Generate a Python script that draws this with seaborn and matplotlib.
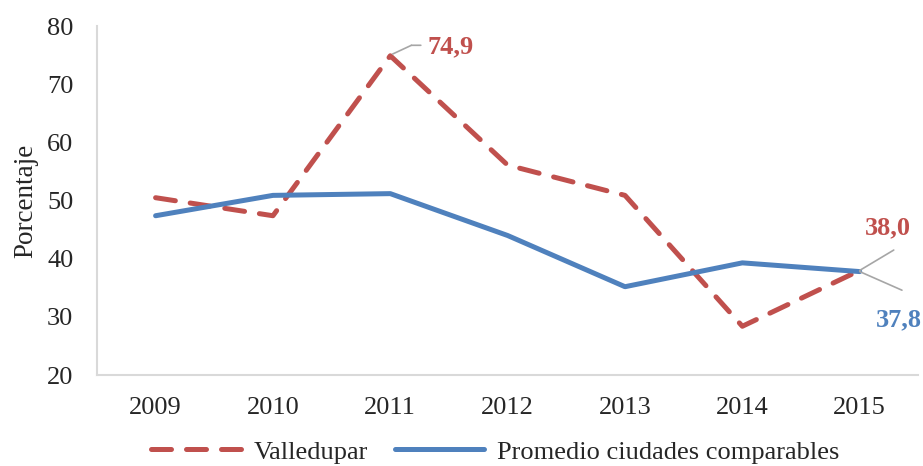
import seaborn as sns
from matplotlib import pyplot as plt
import pandas as pd

years = [2009, 2010, 2011, 2012, 2013, 2014, 2015]
valledupar = [50.5, 47.4, 74.9, 56.1, 50.9, 28.4, 38.0]
promedio = [47.4, 50.9, 51.2, 44.0, 35.2, 39.3, 37.8]

red = '#C0504D'
blue = '#4F81BD'
grey = '#A6A6A6'

sns.set_style('white')
plt.rcParams['font.family'] = ['Liberation Serif', 'DejaVu Serif']

df = pd.DataFrame({'year': years, 'Valledupar': valledupar,
                   'Promedio ciudades comparables': promedio})

fig = plt.figure(figsize=(9.23, 4.66), dpi=100)
ax = fig.add_axes([0.105, 0.195, 0.89, 0.749])

sns.lineplot(data=df, x='year', y='Valledupar', ax=ax, color=red, lw=3.6,
             label='Valledupar')
sns.lineplot(data=df, x='year', y='Promedio ciudades comparables', ax=ax,
             color=blue, lw=3.6, label='Promedio ciudades comparables')
ax.lines[0].set_dashes((4, 3))
ax.lines[0].set_dash_capstyle('round')

ax.set_xlim(2008.5, 2015.5)
ax.set_ylim(20, 80)
ax.set_xticks(years)
ax.set_yticks(range(20, 81, 10))
ax.tick_params(labelsize=19, length=0)
ax.tick_params(axis='y', pad=17)
ax.tick_params(axis='x', pad=16)
ax.set_xlabel('')
ax.set_ylabel('Porcentaje', fontsize=19.5, labelpad=6)
for s in ['top', 'right']:
    ax.spines[s].set_visible(False)
for s in ['left', 'bottom']:
    ax.spines[s].set_color('#D9D9D9')
    ax.spines[s].set_linewidth(1.5)

# data labels with leader lines
lead = dict(arrowstyle='-', color=grey, lw=1.2, shrinkA=0, shrinkB=0)
ax.annotate('', xy=(2011.02, valledupar[2] + 0.3), xytext=(2011.18, 76.7),
            arrowprops=lead)
ax.annotate('', xy=(2011.18, 76.7), xytext=(2011.26, 76.7), arrowprops=lead)
ax.text(2011.32, 76.5, '74,9', color=red, fontsize=19, fontweight='bold',
        va='center', ha='left')

ax.annotate('', xy=(2015, valledupar[6]), xytext=(2015.29, 41.5),
            arrowprops=lead)
ax.text(2015.24, 45.4, '38,0', color=red, fontsize=19, fontweight='bold',
        va='center', ha='center')

ax.annotate('', xy=(2015, promedio[6]), xytext=(2015.36, 34.6),
            arrowprops=lead)
ax.text(2015.33, 29.5, '37,8', color=blue, fontsize=19, fontweight='bold',
        va='center', ha='center')

ax.legend(loc='center', bbox_to_anchor=(0.485, -0.22), ncol=2,
          frameon=False, fontsize=19, handlelength=3.4, columnspacing=1.0,
          handletextpad=0.5)

fig.savefig('out.png', dpi=100)
